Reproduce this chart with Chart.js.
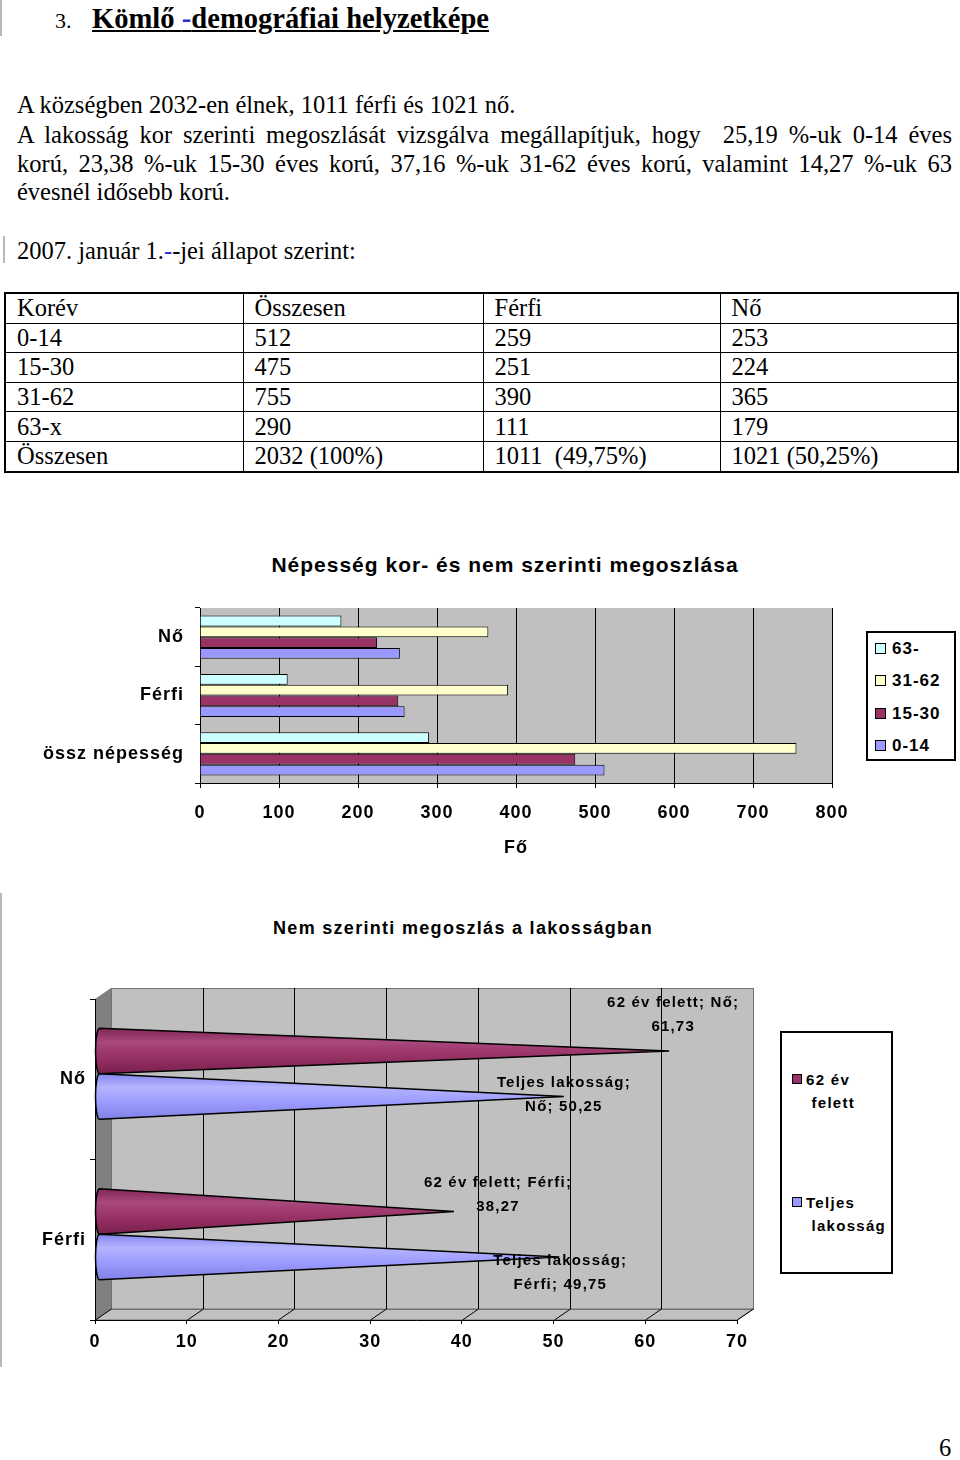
<!DOCTYPE html>
<html>
<head>
<meta charset="utf-8">
<script src="https://cdn.jsdelivr.net/npm/chart.js@4.4.1/dist/chart.umd.min.js"></script>
<style>
  body { margin:0; background:#fff; width:960px; height:1460px; position:relative; overflow:hidden;
         font-family:"Liberation Serif","Times New Roman",serif; color:#000; }
  .a { position:absolute; }
  .ln { position:absolute; left:17px; width:935px; font-size:24.5px; line-height:29px; white-space:nowrap; }
  .j { text-align:justify; text-align-last:justify; white-space:normal; }
  .edge { position:absolute; width:2px; background:#b8b8b8; }
  table.t { position:absolute; left:4px; top:292px; width:953px; border-collapse:collapse; table-layout:fixed;
            font-size:24.5px; border:2px solid #000; }
  table.t td { border:1px solid #000; height:28.6px; padding:0 0 0 11px; line-height:28px; white-space:nowrap; }
  .sans { font-family:"Liberation Sans",Arial,sans-serif; font-weight:bold; }
  .ctitle { position:absolute; text-align:center; white-space:nowrap; }
  .sq { position:absolute; border:1px solid #000; box-sizing:border-box; }
  .lt { position:absolute; white-space:nowrap; }
</style>
</head>
<body>

<div class="edge" style="left:0;top:0;height:36px"></div>
<div class="a" style="left:55px;top:5px;font-size:22px;line-height:32px">3.</div>
<div class="a" style="left:92px;top:3px;font-size:28.6px;line-height:32px;font-weight:bold;text-decoration:underline;white-space:nowrap">Kömlő <span style="color:#2b2bd0">-</span>demográfiai helyzetképe</div>

<div class="ln" style="top:90px">A községben 2032-en élnek, 1011 férfi és 1021 nő.</div>
<div class="ln j" style="top:120px">A lakosság kor szerinti megoszlását vizsgálva megállapítjuk, hogy&nbsp; 25,19 %-uk 0-14 éves</div>
<div class="ln j" style="top:149px">korú, 23,38 %-uk 15-30 éves korú, 37,16 %-uk 31-62 éves korú, valamint 14,27 %-uk 63</div>
<div class="ln" style="top:177px">évesnél idősebb korú.</div>

<div class="edge" style="left:3px;top:236px;height:27px"></div>
<div class="ln" style="top:236px">2007. január 1.<span style="color:#2b2bd0">-</span>-jei állapot szerint:</div>

<table class="t">
  <colgroup><col style="width:238px"><col style="width:240px"><col style="width:237px"><col style="width:238px"></colgroup>
  <tbody id="tbody"></tbody>
</table>

<div class="ctitle sans" style="left:205px;width:600px;top:553px;font-size:21px;line-height:24px;letter-spacing:1px">Népesség kor- és nem szerinti megoszlása</div>
<canvas id="c1" class="a" style="left:0;top:540px" width="960" height="330"></canvas>

<div class="a" style="left:866px;top:631px;width:86px;height:126px;border:2px solid #000;background:#fff"></div>
<div id="leg1"></div>

<div class="edge" style="left:0;top:893px;height:474px"></div>
<div class="ctitle sans" style="left:163px;width:600px;top:917px;font-size:18px;line-height:22px;letter-spacing:1.3px">Nem szerinti megoszlás a lakosságban</div>
<canvas id="c2" class="a" style="left:0;top:950px" width="760" height="410"></canvas>

<div class="a" style="left:780px;top:1031px;width:109px;height:239px;border:2px solid #000;background:#fff"></div>
<div id="leg2"></div>

<div class="a" style="left:939px;top:1434px;font-size:24.5px;line-height:28px">6</div>

<script>
// ---- table ----
const tableHead = ['Korév', 'Összesen', 'Férfi', 'Nő'];
const tableRows = [
  ['0-14', '512', '259', '253'],
  ['15-30', '475', '251', '224'],
  ['31-62', '755', '390', '365'],
  ['63-x', '290', '111', '179'],
  ['Összesen', '2032 (100%)', '1011&nbsp; (49,75%)', '1021 (50,25%)']
];

// ---- chart 1: Népesség kor- és nem szerinti megoszlása ----
const groupLabels = ['Nő', 'Férfi', 'össz népesség'];
const ageGroups = ['63-', '31-62', '15-30', '0-14'];
const age63 = [179, 111, 290];
const age3162 = [365, 390, 755];
const age1530 = [224, 251, 475];
const age014 = [253, 259, 512];

// ---- chart 2: Nem szerinti megoszlás a lakosságban ----
const sexLabels = ['Nő', 'Férfi'];
const sexSeries = ['62 év felett', 'Teljes lakosság'];
const over62Pct = [61.73, 38.27];
const totalPct = [50.25, 49.75];

const SANS = '"Liberation Sans", Arial, sans-serif';
const ageColors = ['#CCFFFF', '#FFFFCC', '#993366', '#9999FF'];

var tb = document.getElementById('tbody');
tb.innerHTML = [tableHead].concat(tableRows).map(function(r) {
  return '<tr>' + r.map(function(c) { return '<td>' + c + '</td>'; }).join('') + '</tr>';
}).join('');

// legends (html boxes)
function square(x, y, s, col) {
  return '<div class="sq" style="left:' + x + 'px;top:' + y + 'px;width:' + s + 'px;height:' + s + 'px;background:' + col + '"></div>';
}
var l1 = '';
ageGroups.forEach(function(g, i) {
  var cy = 648 + i * 32.4;
  l1 += square(875, cy - 5, 11, ageColors[i]);
  l1 += '<div class="lt sans" style="left:892px;top:' + (cy - 10) + 'px;font-size:17px;line-height:22px;letter-spacing:1px">' + g + '</div>';
});
document.getElementById('leg1').innerHTML = l1;

var cone2Colors = ['#993366', '#9999FF'];
var legWords = [['62 év', 'felett'], ['Teljes', 'lakosság']];
var l2 = '';
legWords.forEach(function(w, i) {
  var cy = 1079 + i * 123;
  l2 += square(792, cy - 5, 10, cone2Colors[i]);
  l2 += '<div class="lt sans" style="left:806px;top:' + (cy - 11) + 'px;font-size:15px;line-height:23px;letter-spacing:1.3px">' + w[0] + '<br>&nbsp;' + w[1] + '</div>';
});
document.getElementById('leg2').innerHTML = l2;

// gray plot background
const plotBg = {
  id: 'plotBg',
  beforeDraw: function(chart) {
    var a = chart.chartArea, ctx = chart.ctx;
    ctx.letterSpacing = '1px';
    ctx.save();
    ctx.fillStyle = '#C0C0C0';
    ctx.fillRect(a.left, a.top, a.right - a.left, a.bottom - a.top);
    ctx.restore();
  }
};

new Chart(document.getElementById('c1'), {
  type: 'bar',
  data: {
    labels: groupLabels,
    datasets: [age63, age3162, age1530, age014].map(function(d, i) {
      return { label: ageGroups[i], data: d, backgroundColor: ageColors[i], borderColor: '#000',
               borderWidth: 1, categoryPercentage: 0.74, barPercentage: 1 };
    })
  },
  options: {
    indexAxis: 'y', responsive: false, animation: false,
    layout: { padding: { left: 0, right: 128, top: 68, bottom: 0 } },
    plugins: { legend: { display: false }, tooltip: { enabled: false } },
    scales: {
      x: {
        min: 0, max: 800,
        ticks: { stepSize: 100, color: '#000', padding: 14, font: { family: SANS, size: 18, weight: 'bold' } },
        grid: { color: '#000', lineWidth: 1, tickLength: 5 },
        border: { color: '#000' },
        title: { display: true, text: 'Fő', color: '#000', padding: { top: 0, bottom: 11 },
                 font: { family: SANS, size: 18, weight: 'bold' } },
        afterFit: function(s) { s.height = 87; }
      },
      y: {
        ticks: { color: '#000', padding: 11, font: { family: SANS, size: 18, weight: 'bold' } },
        grid: { offset: true, drawOnChartArea: false, color: '#000', tickLength: 5 },
        border: { color: '#000' },
        afterFit: function(s) { s.width = 200; }
      }
    }
  },
  plugins: [plotBg]
});

// ---- 3D walls for chart 2 ----
const DX = 16, DY = -11;
const walls3d = {
  id: 'walls3d',
  beforeDraw: function(chart) {
    var a = chart.chartArea, ctx = chart.ctx, xs = chart.scales.x;
    ctx.save();
    ctx.lineWidth = 1;
    // left wall
    ctx.fillStyle = '#808080';
    ctx.beginPath();
    ctx.moveTo(a.left, a.top); ctx.lineTo(a.left + DX, a.top + DY);
    ctx.lineTo(a.left + DX, a.bottom + DY); ctx.lineTo(a.left, a.bottom); ctx.closePath();
    ctx.fill();
    // back wall
    ctx.fillStyle = '#C0C0C0';
    ctx.fillRect(a.left + DX, a.top + DY, a.right - a.left, a.bottom - a.top);
    // floor
    ctx.fillStyle = '#C0C0C0';
    ctx.beginPath();
    ctx.moveTo(a.left, a.bottom); ctx.lineTo(a.left + DX, a.bottom + DY);
    ctx.lineTo(a.right + DX, a.bottom + DY); ctx.lineTo(a.right, a.bottom); ctx.closePath();
    ctx.fill();
    ctx.strokeStyle = '#707070';
    ctx.stroke();
    ctx.strokeRect(a.left + DX + 0.5, a.top + DY + 0.5, a.right - a.left, a.bottom - a.top);
    // gridlines on back wall + diagonal floor ticks
    xs.ticks.forEach(function(t) {
      var px = Math.round(xs.getPixelForValue(t.value)) + 0.5;
      ctx.strokeStyle = (t.value === xs.min || t.value === xs.max) ? '#707070' : '#000';
      ctx.beginPath();
      ctx.moveTo(px + DX, a.top + DY); ctx.lineTo(px + DX, a.bottom + DY);
      ctx.stroke();
      ctx.strokeStyle = '#000';
      ctx.beginPath();
      ctx.moveTo(px, a.bottom); ctx.lineTo(px + DX, a.bottom + DY);
      ctx.stroke();
    });
    ctx.restore();
    ctx.letterSpacing = '1px';
  }
};

// cones drawn on the bar elements + data labels
const labelOffsets = [[[4, -36], [44, -17]], [[0, -2], [1, 16]]];
const coneGrad = [['#7f2553', '#a9497c', '#993366', '#7a1f4e'], ['#8585ee', '#b4b4ff', '#9d9dff', '#8080e6']];
function fmt(v) { return String(v).replace('.', ','); }
const cones = {
  id: 'cones',
  afterDatasetsDraw: function(chart) {
    var ctx = chart.ctx;
    ctx.save();
    chart.data.datasets.forEach(function(ds, di) {
      chart.getDatasetMeta(di).data.forEach(function(el, i) {
        var p = el.getProps(['x', 'y', 'base', 'height'], true);
        var cy = p.y + DY / 2, h = p.height, x0 = p.base + 4, tip = p.x + DX / 2;
        var g = ctx.createLinearGradient(0, cy - h / 2, 0, cy + h / 2);
        var cg = coneGrad[di];
        g.addColorStop(0, cg[0]); g.addColorStop(0.3, cg[1]); g.addColorStop(0.6, cg[2]); g.addColorStop(1, cg[3]);
        ctx.beginPath();
        ctx.moveTo(x0, cy - h / 2);
        ctx.lineTo(tip, cy);
        ctx.lineTo(x0, cy + h / 2);
        ctx.ellipse(x0, cy, 4, h / 2, 0, Math.PI / 2, Math.PI * 1.5);
        ctx.closePath();
        ctx.fillStyle = g;
        ctx.fill();
        ctx.lineWidth = 1.5;
        ctx.strokeStyle = '#000';
        ctx.stroke();
      });
    });
    // labels
    ctx.font = 'bold 15px ' + SANS;
    ctx.letterSpacing = '1.2px';
    ctx.fillStyle = '#000';
    ctx.textAlign = 'center';
    ctx.textBaseline = 'middle';
    chart.data.datasets.forEach(function(ds, di) {
      chart.getDatasetMeta(di).data.forEach(function(el, i) {
        var v = ds.data[i], cat = chart.data.labels[i];
        var lines = di === 0 ? [ds.label + '; ' + cat + ';', fmt(v)] : [ds.label + ';', cat + '; ' + fmt(v)];
        var off = labelOffsets[di][i];
        var cx = el.x + DX / 2 + off[0], cy = el.y + DY / 2 + off[1];
        ctx.fillText(lines[0], cx, cy - 12);
        ctx.fillText(lines[1], cx, cy + 12);
      });
    });
    ctx.restore();
  }
};

new Chart(document.getElementById('c2'), {
  type: 'bar',
  data: {
    labels: sexLabels,
    datasets: [over62Pct, totalPct].map(function(d, i) {
      return { label: sexSeries[i], data: d, backgroundColor: 'rgba(0,0,0,0)', borderWidth: 0,
               categoryPercentage: 0.567, barPercentage: 1 };
    })
  },
  options: {
    indexAxis: 'y', responsive: false, animation: false,
    layout: { padding: { left: 0, right: 23, top: 49, bottom: 0 } },
    plugins: { legend: { display: false }, tooltip: { enabled: false } },
    scales: {
      x: {
        min: 0, max: 70,
        ticks: { stepSize: 10, color: '#000', padding: 7, font: { family: SANS, size: 18, weight: 'bold' } },
        grid: { drawOnChartArea: false, color: '#000', tickLength: 4 },
        border: { color: '#000' },
        afterFit: function(s) { s.height = 40; }
      },
      y: {
        ticks: { color: '#000', padding: 4, font: { family: SANS, size: 18, weight: 'bold' } },
        grid: { offset: true, drawOnChartArea: false, color: '#000', tickLength: 5 },
        border: { color: '#000' },
        afterFit: function(s) { s.width = 95; }
      }
    }
  },
  plugins: [walls3d, cones]
});
</script>
</body>
</html>
